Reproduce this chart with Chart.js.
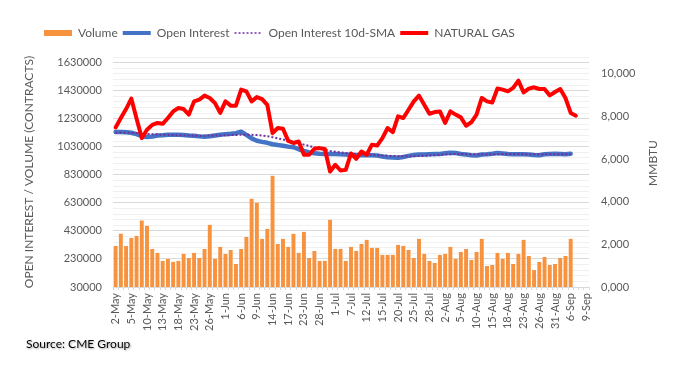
<!DOCTYPE html>
<html>
<head>
<meta charset="utf-8">
<script src="https://cdn.jsdelivr.net/npm/chart.js@4.4.1/dist/chart.umd.min.js"></script>
<style>
  html, body { margin: 0; padding: 0; background: #fff; }
  #wrap { position: relative; width: 688px; height: 366px; }
</style>
</head>
<body>
<div id="wrap"><canvas id="chart" width="688" height="366"></canvas></div>
<script>
// trading days, 2-May to 9-Sep
const dates = ['2-May','3-May','4-May','5-May','6-May','9-May','10-May','11-May','12-May','13-May','16-May','17-May','18-May','19-May','20-May','23-May','24-May','25-May','26-May','27-May','31-May',
  '1-Jun','2-Jun','3-Jun','6-Jun','7-Jun','8-Jun','9-Jun','10-Jun','13-Jun','14-Jun','15-Jun','16-Jun','17-Jun','21-Jun','22-Jun','23-Jun','24-Jun','27-Jun','28-Jun','29-Jun','30-Jun',
  '1-Jul','5-Jul','6-Jul','7-Jul','8-Jul','11-Jul','12-Jul','13-Jul','14-Jul','15-Jul','18-Jul','19-Jul','20-Jul','21-Jul','22-Jul','25-Jul','26-Jul','27-Jul','28-Jul','29-Jul',
  '1-Aug','2-Aug','3-Aug','4-Aug','5-Aug','8-Aug','9-Aug','10-Aug','11-Aug','12-Aug','15-Aug','16-Aug','17-Aug','18-Aug','19-Aug','22-Aug','23-Aug','24-Aug','25-Aug','26-Aug','29-Aug','30-Aug','31-Aug',
  '1-Sep','2-Sep','6-Sep','7-Sep','8-Sep','9-Sep'];

const volume = [322000, 410000, 322000, 380000, 394000, 504000, 466000, 301000, 273000, 216000,
  230000, 209000, 216000, 266000, 237000, 273000, 237000, 301000, 473000, 230000,
  316000, 266000, 294000, 194000, 301000, 387000, 659000, 630000, 373000, 444000,
  823000, 337000, 373000, 316000, 409000, 273000, 423000, 237000, 287000, 216000,
  216000, 509000, 301000, 301000, 216000, 316000, 287000, 337000, 366000, 309000,
  309000, 259000, 259000, 259000, 330000, 323000, 294000, 237000, 373000, 266000,
  216000, 201000, 259000, 266000, 316000, 230000, 280000, 301000, 223000, 280000,
  373000, 180000, 187000, 273000, 230000, 273000, 194000, 266000, 366000, 251000,
  151000, 209000, 244000, 187000, 194000, 237000, 251000, 373000];

const openInterest = [1135000, 1136000, 1134000, 1130000, 1120000, 1105000, 1100000, 1103000, 1110000, 1112000,
  1115000, 1116000, 1115000, 1114000, 1110000, 1108000, 1104000, 1102000, 1105000, 1110000,
  1115000, 1120000, 1123000, 1127000, 1137000, 1115000, 1090000, 1073000, 1065000, 1058000,
  1048000, 1042000, 1037000, 1031000, 1027000, 1012000, 1000000, 990000, 983000, 980000,
  979000, 978000, 978000, 976000, 975000, 972000, 971000, 970000, 970000, 970000,
  968000, 961000, 955000, 953000, 951000, 957000, 965000, 972000, 975000, 975000,
  977000, 978000, 979000, 984000, 987000, 985000, 978000, 974000, 970000, 968000,
  975000, 977000, 980000, 985000, 982000, 978000, 977000, 976000, 976000, 975000,
  972000, 970000, 977000, 979000, 980000, 979000, 976000, 980000];

const oiSma10 = [1130000, 1130000, 1130000, 1129000, 1128000, 1125000, 1122000, 1120000, 1118000, 1116000,
  1114000, 1113000, 1112000, 1111000, 1110000, 1109000, 1109000, 1109000, 1110000, 1110000,
  1111000, 1112000, 1113000, 1114000, 1116000, 1116000, 1115000, 1113000, 1110000, 1105000,
  1098000, 1090000, 1082000, 1073000, 1064000, 1055000, 1045000, 1036000, 1026000, 1017000,
  1008000, 1000000, 995000, 990000, 986000, 982000, 978000, 975000, 973000, 972000,
  970000, 968000, 966000, 964000, 963000, 962000, 962000, 963000, 964000, 966000,
  968000, 970000, 972000, 975000, 977000, 978000, 979000, 978000, 977000, 976000,
  975000, 975000, 976000, 977000, 978000, 978000, 978000, 978000, 977000, 977000,
  976000, 976000, 976000, 976000, 976000, 977000, 977000, 978000];

const naturalGas = [7480, 7920, 8340, 8830, 7900, 6980, 7370, 7600, 7690, 7650,
  7920, 8230, 8390, 8340, 8080, 8700, 8780, 8970, 8860, 8620,
  8160, 8700, 8500, 8500, 9250, 9170, 8700, 8900, 8810, 8540,
  7210, 7450, 7420, 6850, 6750, 6820, 6200, 6200, 6480, 6510,
  6470, 5410, 5730, 5460, 5490, 6260, 6010, 6350, 6200, 6670,
  6630, 6980, 7450, 7260, 8000, 7920, 8310, 8700, 8970, 8540,
  8120, 8200, 8230, 7690, 8230, 8080, 7950, 7560, 7720, 8080,
  8860, 8700, 8650, 9300, 9250, 9170, 9330, 9670, 9120, 9300,
  9360, 9280, 9280, 8980, 9140, 9280, 8860, 8160, 8030];

const leftTicks = [30000, 230000, 430000, 630000, 830000, 1030000, 1230000, 1430000, 1630000];
const rightTicks = [0, 2000, 4000, 6000, 8000, 10000];
const rightTickLabels = ['0,000', '2,000', '4,000', '6,000', '8,000', '10,000'];

const FONT = 'Lato, "Open Sans", sans-serif';
const GREY = '#595959';

// puts the legend where it sits in the picture, draws the right axis title and the source note
const extras = {
  id: 'extras',
  afterLayout(chart) {
    chart.legend.left = 39;
    chart.legend.top = 22;
  },
  afterDraw(chart) {
    const ctx = chart.ctx;
    ctx.save();
    ctx.translate(653, 163);
    ctx.rotate(-Math.PI / 2);
    ctx.font = '12px ' + FONT;
    ctx.fillStyle = GREY;
    ctx.textAlign = 'center';
    ctx.textBaseline = 'middle';
    ctx.fillText('MMBTU', 0, 0);
    ctx.restore();

    ctx.save();
    ctx.font = '12px ' + FONT;
    ctx.fillStyle = '#000';
    ctx.shadowColor = 'rgba(0,0,0,0.35)';
    ctx.shadowOffsetX = 1;
    ctx.shadowOffsetY = 1;
    ctx.shadowBlur = 2;
    ctx.textBaseline = 'middle';
    ctx.fillText('Source: CME Group', 26, 344);
    ctx.restore();
  }
};

const legendStyle = [
  { pointStyle: 'rect', fillStyle: '#f7923e', strokeStyle: '#f7923e', lineWidth: 0, lineDash: [] },
  { pointStyle: 'line', fillStyle: '#4472c4', strokeStyle: '#4472c4', lineWidth: 4, lineDash: [] },
  { pointStyle: 'line', fillStyle: '#7030a0', strokeStyle: '#7030a0', lineWidth: 1.5, lineDash: [2, 2] },
  { pointStyle: 'line', fillStyle: '#ff0000', strokeStyle: '#ff0000', lineWidth: 4, lineDash: [] }
];

new Chart(document.getElementById('chart'), {
  type: 'bar',
  data: {
    labels: dates,
    datasets: [
      {
        type: 'bar',
        label: 'Volume',
        data: volume,
        backgroundColor: '#f7923e',
        barPercentage: 0.75,
        categoryPercentage: 1,
        yAxisID: 'y',
        order: 4
      },
      {
        type: 'line',
        label: 'Open Interest',
        data: openInterest,
        borderColor: '#4472c4',
        borderWidth: 4.5,
        pointRadius: 0,
        borderJoinStyle: 'round',
        borderCapStyle: 'round',
        yAxisID: 'y',
        order: 3
      },
      {
        type: 'line',
        label: 'Open Interest 10d-SMA',
        data: oiSma10,
        borderColor: '#7030a0',
        borderWidth: 2,
        borderDash: [2, 2],
        pointRadius: 0,
        yAxisID: 'y',
        order: 2
      },
      {
        type: 'line',
        label: 'NATURAL GAS',
        data: naturalGas,
        borderColor: '#ff0000',
        borderWidth: 4,
        pointRadius: 0,
        borderJoinStyle: 'round',
        borderCapStyle: 'round',
        yAxisID: 'y1',
        order: 1
      }
    ]
  },
  options: {
    responsive: false,
    animation: false,
    devicePixelRatio: 1,
    layout: { padding: { top: 30, left: 0, right: 0, bottom: 0 } },
    plugins: {
      tooltip: { enabled: false },
      legend: {
        position: 'top',
        align: 'start',
        labels: {
          usePointStyle: true,
          pointStyleWidth: 28,
          boxHeight: 6,
          padding: 5,
          color: GREY,
          font: { family: FONT, size: 12 },
          generateLabels: chart => chart.data.datasets.map((ds, i) => Object.assign({
            text: ds.label,
            datasetIndex: i,
            hidden: false,
            fontColor: GREY
          }, legendStyle[i]))
        }
      }
    },
    scales: {
      x: {
        offset: true,
        grid: { display: true, drawOnChartArea: false, offset: true, tickLength: 3, color: '#d9d9d9' },
        border: { display: true, color: '#d9d9d9' },
        ticks: {
          autoSkip: false,
          maxRotation: 90,
          minRotation: 90,
          padding: 3,
          color: GREY,
          font: { family: FONT, size: 11 },
          callback: (v, i) => (i % 3 === 0 ? dates[i] : '')
        },
        afterFit: s => { s.height = 79; }
      },
      y: {
        position: 'left',
        min: 30000,
        max: 1670000,
        ticks: {
          stepSize: 40000,
          autoSkip: false,
          padding: 11,
          color: GREY,
          font: { family: FONT, size: 11 },
          callback: v => (leftTicks.includes(v) ? String(v) : '')
        },
        grid: {
          drawTicks: false,
          color: c => (c.tick && leftTicks.includes(c.tick.value) ? '#d9d9d9' : '#f0f0f0')
        },
        border: { display: false },
        title: {
          display: true,
          text: 'OPEN INTEREST / VOLUME (CONTRACTS)',
          color: GREY,
          font: { family: FONT, size: 12 },
          padding: { top: 22, bottom: 0 }
        },
        afterFit: s => { s.width = 113; }
      },
      y1: {
        position: 'right',
        min: 0,
        max: 10780,
        afterBuildTicks: s => { s.ticks = rightTicks.map(v => ({ value: v })); },
        ticks: {
          autoSkip: false,
          padding: 12,
          color: GREY,
          font: { family: FONT, size: 11 },
          callback: (v, i) => rightTickLabels[rightTicks.indexOf(v)]
        },
        grid: { display: false, drawTicks: false },
        border: { display: false },
        afterFit: s => { s.width = 99; }
      }
    }
  },
  plugins: [extras]
});
</script>
</body>
</html>
